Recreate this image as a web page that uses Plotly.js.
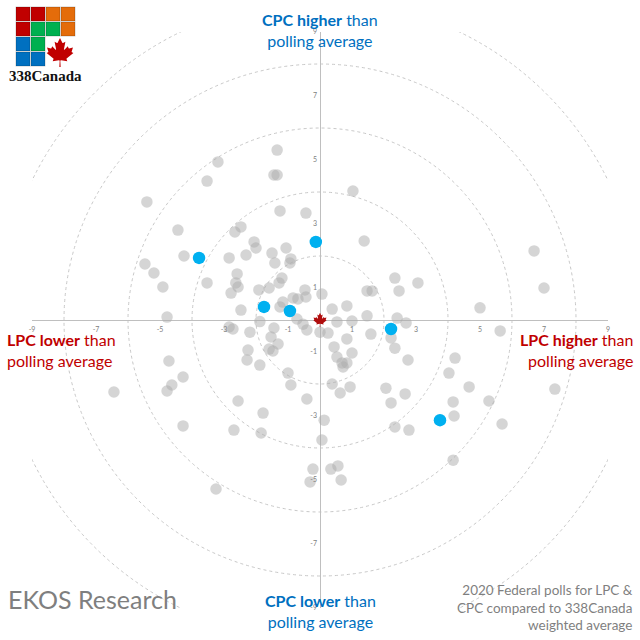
<!DOCTYPE html>
<html>
<head>
<meta charset="utf-8">
<script src="https://cdn.plot.ly/plotly-3.0.1.min.js"></script>
<style>html,body{margin:0;padding:0;background:#fff;}#chart{width:640px;height:640px;}</style>
</head>
<body>
<div id="chart"></div>
<script>
// LPC difference vs. average (x) and CPC difference vs. average (y), in points
const pollLPC = [
-3.19,-1.34,-1.44,-1.34,1.03,-1.25,-0.44,-3.53,-5.41,-4.44,
-4.25,-5.47,-5.19,-4.91,-3.53,-4.78,-4.72,-4.28,-4.63,-4.78,
-6.44,-4.28,-2.47,-2.66,-2.06,-2.00,-2.84,-2.31,-1.50,-1.06,
-1.41,-0.91,-0.94,-2.59,-2.63,-2.56,-2.78,-1.19,-1.28,-1.59,
-1.91,-0.47,-0.44,-0.84,-0.69,-1.16,-1.25,-2.47,-1.88,1.38,
0.06,0.38,0.84,0.53,1.00,1.47,1.47,1.63,2.34,3.06,
2.47,2.41,2.69,2.22,2.34,2.75,1.59,0.00,0.25,0.84,
0.44,1.00,0.53,0.69,0.84,0.72,0.38,0.63,0.94,2.06,
2.66,2.22,-0.72,-0.53,-0.41,-2.84,-2.72,-2.19,-1.44,-1.53,
-1.31,-1.59,-1.47,-2.25,-2.28,-1.88,-1.00,-0.91,-2.56,-0.41,
-1.78,0.13,2.34,6.69,7.00,5.00,5.63,4.22,4.03,4.66,
7.34,4.16,5.28,4.19,5.69,-2.69,-1.84,0.06,-0.22,0.34,
0.56,-0.31,0.66,-3.25,2.78,4.16
];
const pollCPC = [
4.94,5.31,4.53,4.53,4.03,3.41,3.34,4.34,3.69,2.81,
2.00,1.75,1.47,1.03,1.16,0.09,-1.28,-1.78,-2.03,-2.22,
-2.25,-3.31,2.91,2.75,2.44,2.25,1.94,2.03,2.09,2.25,
1.78,1.91,1.78,1.44,1.16,1.03,0.84,1.31,1.16,1.00,
0.94,0.94,0.72,0.69,0.66,0.56,0.41,0.31,-0.05,2.47,
0.81,0.34,0.44,-0.06,-0.03,0.13,0.91,0.91,1.31,1.16,
0.91,0.06,-0.09,-0.56,-0.88,-1.25,-0.44,-0.38,-0.41,-0.59,
-0.84,-1.03,-1.16,-1.34,-1.34,-1.47,-2.00,-2.28,-2.09,-2.13,
-2.31,-2.59,0.03,-0.13,-0.31,-0.22,-0.28,-0.38,-0.25,-0.53,
-0.75,-0.91,-0.97,-0.94,-1.25,-1.41,-1.66,-2.03,-2.53,-2.47,
-2.91,-3.13,-3.34,2.16,1.00,0.38,-0.34,-1.19,-1.66,-2.09,
-2.16,-2.56,-2.53,-3.00,-3.25,-3.44,-3.53,-3.75,-4.66,-4.66,
-4.56,-5.06,-5.00,-5.28,-3.44,-4.38
];
// EKOS Research polls (highlighted)
const ekosLPC = [-3.78,-0.13,-1.75,-0.94,2.22,3.75];
const ekosCPC = [1.94,2.44,0.41,0.28,-0.28,-3.13];
// Weighted average at the origin
const avgLPC = [0];
const avgCPC = [0];
// Dashed reference rings (points of difference)
const ringRadii = [2,4,6,8,10];
// Axis ticks
const tickVals = [-9,-7,-5,-3,-1,1,3,5,7,9];
const tickText = ['-9','-7','-5','-3','-1','1','3','5','7','9'];

const W = 640, M = 32, PW = 576;
function px(x){ return (x - M) / PW; }
function py(y){ return (W - M - y) / PW; }

const leafPath = "m-90 2030 45-863a95 95 0 0 0-111-98l-859 151 116-320a65 65 0 0 0-20-73l-941-762 212-99a65 65 0 0 0 34-79l-186-572 542 115a65 65 0 0 0 73-38l105-247 423 454a65 65 0 0 0 111-57l-204-1052 327 189a65 65 0 0 0 91-27l332-652 332 652a65 65 0 0 0 91 27l327-189-204 1052a65 65 0 0 0 111 57l423-454 105 247a65 65 0 0 0 73 38l542-115-186 572a65 65 0 0 0 34 79l212 99-941 762a65 65 0 0 0-20 73l116 320-859-151a95 95 0 0 0-111 98l45 863z";

const leafSvg = '<svg xmlns="http://www.w3.org/2000/svg" viewBox="-1900 -2050 3800 4100"><path fill="#b00d0d" d="' + leafPath + '"/></svg>';

const logoColors = [
  ['#c00000','#c00000','#e46c0a','#e46c0a'],
  ['#c00000','#00b050','#00b050','#e46c0a'],
  ['#0070c0','#00b050',null,null],
  ['#0070c0','#0070c0',null,null]
];
let logoRects = '';
logoColors.forEach((row, r) => row.forEach((c, k) => {
  if (c) logoRects += '<rect x="' + (10 + 15*k) + '" y="' + (3 + 15*r) + '" width="14" height="14" fill="' + c + '" stroke="rgba(0,0,0,0.25)" stroke-width="0.8"/>';
}));
const logoSvg = '<svg xmlns="http://www.w3.org/2000/svg" viewBox="0 0 80 80" width="80" height="80">' + logoRects +
  '<g transform="translate(54,48.5) scale(0.0072)"><path fill="#c00000" d="' + leafPath + '"/></g></svg>';

function uri(s){ return 'data:image/svg+xml;charset=utf-8,' + encodeURIComponent(s); }

const traces = [
  {
    type: 'scatter', mode: 'markers', x: pollLPC, y: pollCPC,
    marker: {size: 11.5, color: 'rgba(172,172,172,0.5)', line: {width: 0}},
    hoverinfo: 'skip'
  },
  {
    type: 'scatter', mode: 'markers', x: ekosLPC, y: ekosCPC,
    marker: {size: 12.5, color: '#00b0f0', line: {width: 0}},
    hoverinfo: 'skip'
  }
];

const ringShapes = ringRadii.map(r => ({
  type: 'circle', xref: 'x', yref: 'y', x0: -r, x1: r, y0: -r, y1: r,
  line: {color: '#c8c8c8', width: 1, dash: '3px,3px'}, layer: 'below'
}));

const blue = '#0070c0', red = '#c00000', grey = '#7f7f7f';
const labelFont = (c) => ({family: 'Lato, sans-serif', size: 16, color: c});

const layout = {
  width: 640, height: 640,
  margin: {l: M, r: M, t: M, b: M},
  paper_bgcolor: '#ffffff', plot_bgcolor: '#ffffff',
  showlegend: false,
  xaxis: {
    range: [-9, 9], tickvals: tickVals, ticktext: tickText,
    showgrid: false, zeroline: true, zerolinecolor: '#bfbfbf', zerolinewidth: 1,
    showline: false, anchor: 'free', position: 0.5, ticks: '', ticklabelstandoff: 4,
    tickfont: {family: 'Lato, sans-serif', size: 7, color: '#808080'}, fixedrange: true
  },
  yaxis: {
    range: [-9, 9], tickvals: tickVals, ticktext: tickText,
    showgrid: false, zeroline: true, zerolinecolor: '#bfbfbf', zerolinewidth: 1,
    showline: false, anchor: 'free', position: 0.5, ticks: '', ticklabelstandoff: 3,
    tickfont: {family: 'Lato, sans-serif', size: 7, color: '#808080'}, fixedrange: true
  },
  shapes: ringShapes,
  images: [
    {source: uri(leafSvg), xref: 'x', yref: 'y', x: avgLPC[0], y: avgCPC[0],
     sizex: 0.46, sizey: 0.46, xanchor: 'center', yanchor: 'middle', sizing: 'contain', layer: 'above'},
    {source: uri(logoSvg), xref: 'paper', yref: 'paper', x: px(6), y: py(4),
     sizex: 80/PW, sizey: 80/PW, xanchor: 'left', yanchor: 'top', sizing: 'stretch', layer: 'above'}
  ],
  annotations: [
    {text: '<b>CPC higher</b> than<br>polling average', xref: 'paper', yref: 'paper', x: 0.5, y: py(30),
     xanchor: 'center', yanchor: 'middle', align: 'center', showarrow: false, font: labelFont(blue)},
    {text: '<b>CPC lower</b> than<br>polling average', xref: 'paper', yref: 'paper', x: 0.5, y: py(611),
     xanchor: 'center', yanchor: 'middle', align: 'center', showarrow: false, font: labelFont(blue)},
    {text: '<b>LPC lower</b> than<br>polling average', xref: 'paper', yref: 'paper', x: px(5), y: py(349.5),
     xanchor: 'left', yanchor: 'middle', align: 'left', showarrow: false, font: labelFont(red)},
    {text: '<b>LPC higher</b> than<br>polling average', xref: 'paper', yref: 'paper', x: px(635), y: py(349.5),
     xanchor: 'right', yanchor: 'middle', align: 'right', showarrow: false, font: labelFont(red)},
    {text: 'EKOS Research', xref: 'paper', yref: 'paper', x: px(6), y: py(599),
     xanchor: 'left', yanchor: 'middle', align: 'left', showarrow: false,
     font: {family: 'Lato, sans-serif', size: 25, color: grey}},
    {text: '2020 Federal polls for LPC &amp;<br>CPC compared to 338Canada<br>weighted average', xref: 'paper', yref: 'paper',
     x: px(635), y: py(607), xanchor: 'right', yanchor: 'middle', align: 'right', showarrow: false,
     font: {family: 'Lato, sans-serif', size: 13.5, color: grey}},
    {text: '<b>338Canada</b>', xref: 'paper', yref: 'paper', x: px(45), y: py(76),
     xanchor: 'center', yanchor: 'middle', align: 'center', showarrow: false,
     font: {family: '"Liberation Serif", serif', size: 15, color: '#111111'}}
  ]
};

Plotly.newPlot('chart', traces, layout, {displayModeBar: false, staticPlot: true});
</script>
</body>
</html>
